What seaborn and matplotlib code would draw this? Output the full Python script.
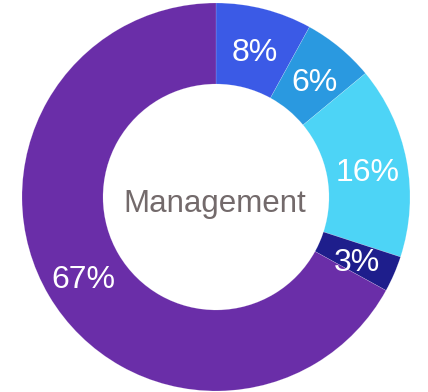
import matplotlib
matplotlib.use("Agg")
import matplotlib.pyplot as plt
import seaborn as sns
import numpy as np

categories = ["A", "B", "C", "D", "E"]
values = [8, 6, 16, 3, 67]
labels = ["8%", "6%", "16%", "3%", "67%"]
colors = ["#3B5AE6", "#2A99E0", "#4DD4F6", "#1E1E8C", "#6A2EA8"]
center_text = "Management"

sns.set_theme(style="white")
plt.rcParams['font.family'] = ['Liberation Sans', 'DejaVu Sans']

fig = plt.figure(figsize=(4.28, 3.92), dpi=100)
ax = fig.add_axes([0, 0, 1, 1])
R = 194
W = 81
wedges, texts = ax.pie(values, colors=colors, startangle=90, counterclock=False,
                       radius=R, wedgeprops=dict(width=W, linewidth=0.3, edgecolor="#ffffff55"),
                       labels=None)
total = sum(values)
cum = 0
for v, lab in zip(values, labels):
    mid = 90 - (cum + v / 2) / total * 360
    cum += v
    r = 154
    ax.text(r * np.cos(np.radians(mid)), r * np.sin(np.radians(mid)) - 5, lab,
            ha="center", va="center", color="white", fontsize=23)
ax.text(-1, -7, center_text, ha="center", va="center", color="#736a6b", fontsize=22.5)
ax.set_xlim(-216, 212)
ax.set_ylim(-195, 197)
ax.set_aspect("equal")
ax.axis("off")
fig.savefig("out.png", dpi=100)
